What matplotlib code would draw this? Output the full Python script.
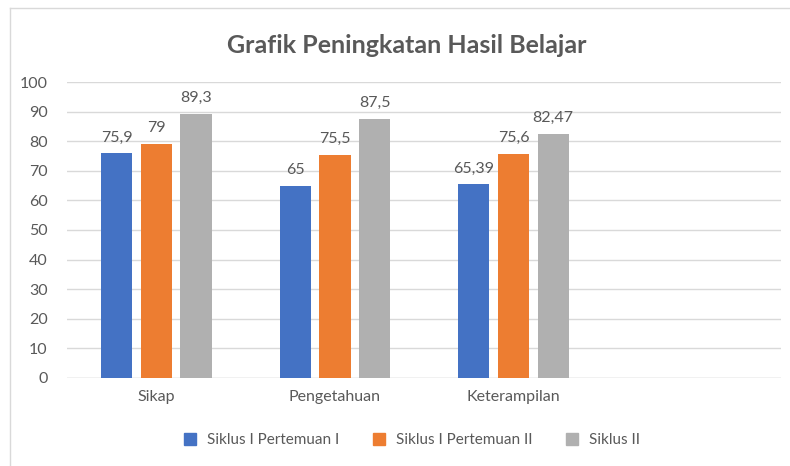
import numpy as np
import matplotlib.pyplot as plt
from matplotlib.lines import Line2D

plt.rcParams['font.family'] = ['Lato', 'DejaVu Sans']

# data
kategori = ['Sikap', 'Pengetahuan', 'Keterampilan', '']
seri = ['Siklus I Pertemuan I', 'Siklus I Pertemuan II', 'Siklus II']
siklus1_p1 = [75.9, 65, 65.39]
siklus1_p2 = [79, 75.5, 75.6]
siklus2 = [89.3, 87.5, 82.47]
warna = ['#4472C4', '#ED7D31', '#B0B0B0']

fig = plt.figure(figsize=(7.9, 4.66), dpi=100)
ax = fig.add_axes([0.085, 0.189, 0.904, 0.635])

x = np.arange(3)
lebar = 0.175
langkah = 0.222
nilai_semua = [siklus1_p1, siklus1_p2, siklus2]
for i, (nama, nilai) in enumerate(zip(seri, nilai_semua)):
    pos = x + (i - 1) * langkah
    bars = ax.bar(pos, nilai, width=lebar, color=warna[i], label=nama, zorder=3)
    for b, v in zip(bars, nilai):
        teks = ('%g' % v).replace('.', ',')
        ax.text(b.get_x() + b.get_width() / 2, v + 3.0, teks, ha='center', va='bottom',
                fontsize=11.5, color='#595959')

ax.set_xlim(-0.5, 3.5)
ax.set_ylim(0, 100)
ax.set_yticks(range(0, 101, 10))
ax.set_xticks(range(4))
ax.set_xticklabels(kategori)
ax.yaxis.grid(True, color='#D9D9D9', linewidth=1, zorder=0)
for s in ax.spines.values():
    s.set_visible(False)
ax.axhline(0, color='#D9D9D9', linewidth=1, zorder=2)
ax.tick_params(axis='both', length=0, labelsize=11.5, labelcolor='#595959')
ax.tick_params(axis='x', pad=9)
ax.tick_params(axis='y', pad=14)

fig.text(0.515, 0.903, 'Grafik Peningkatan Hasil Belajar', ha='center', va='center',
         fontsize=18, fontweight='bold', color='#595959')

handles = [Line2D([], [], marker='s', linestyle='', markersize=8, color=c) for c in warna]
fig.legend(handles, seri, loc='center', bbox_to_anchor=(0.516, 0.056), ncol=3, frameon=False,
           fontsize=11, labelcolor='#595959', handletextpad=0.1, columnspacing=1.6)

# bingkai tipis
fig.add_artist(Line2D([0.013, 0.013], [0, 0.983], color='#D9D9D9', linewidth=1,
                      transform=fig.transFigure))
fig.add_artist(Line2D([0.013, 1], [0.983, 0.983], color='#D9D9D9', linewidth=1,
                      transform=fig.transFigure))

fig.savefig('out.png', dpi=100)
